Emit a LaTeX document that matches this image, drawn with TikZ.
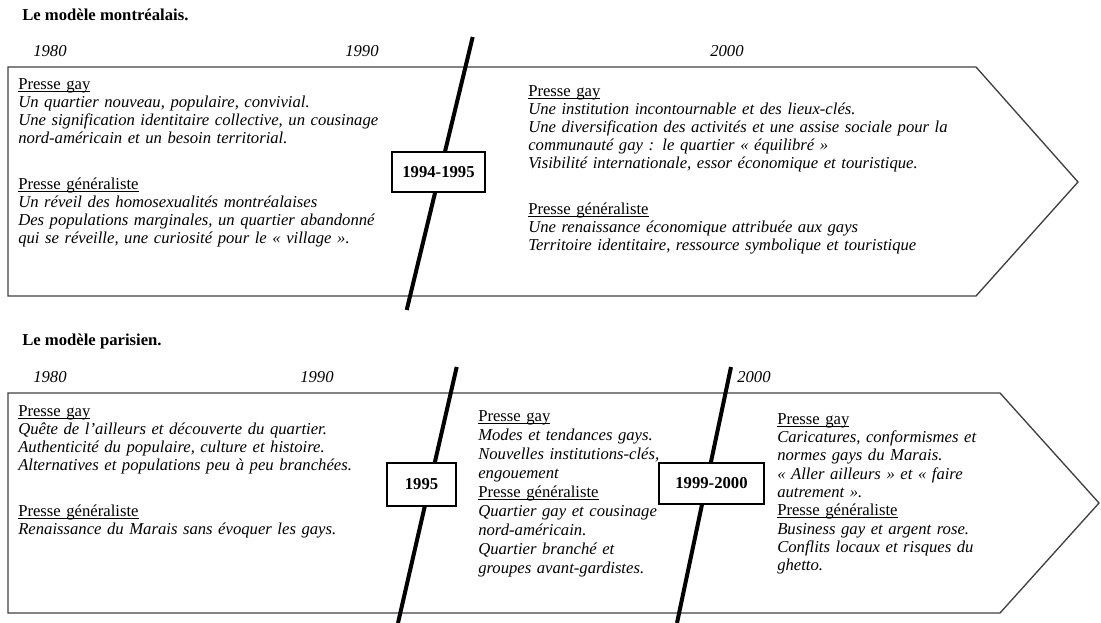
\documentclass[tikz,border=0pt]{standalone}
\usepackage{fontspec}
\setmainfont{Liberation Serif}
\newcommand\hdr[1]{\leavevmode\strut\setbox0\hbox{#1}\rlap{\rule[-1.8pt]{\wd0}{0.55pt}}\box0}
\begin{document}
\begin{tikzpicture}[x=0.75pt,y=-0.75pt,
  titlelbl/.style={anchor=base west, inner sep=0pt, font=\fontsize{12.5}{13.5}\selectfont\bfseries},
  yearlbl/.style={anchor=base west, inner sep=0pt, font=\fontsize{12.5}{13.5}\selectfont\itshape},
  txt/.style={anchor=north west, inner sep=0pt, text width=#1, align=left},
  txt/.default=320pt,
  datebox/.style={draw, fill=white, line width=0.8pt, inner sep=0pt, font=\fontsize{12.5}{14}\selectfont\bfseries},
  period/.style={draw=black!75, line width=1pt, line join=miter},
  cutline/.style={line width=3pt}]
\useasboundingbox (0,0) rectangle (1101,623);

% ---------- Montreal ----------
\node[titlelbl] (t1) at (22,21) {Le modèle montréalais.};
\node[yearlbl] (y1a) at (33,57) {1980};
\node[yearlbl] (y1b) at (345,57) {1990};
\node[yearlbl] (y1c) at (710,57) {2000};

\draw[period] (8,67) -- (976,67) -- (1078,182) -- (976,296) -- (8,296) -- cycle;

\node[txt, font=\fontsize{12.5}{13.5}\selectfont] (m1) at (18,76.4) {\hdr{Presse gay}\\
\textit{Un quartier nouveau, populaire, convivial.}\\
\textit{Une signification identitaire collective, un cousinage}\\
\textit{nord-américain et un besoin territorial.}\\[21pt]
\hdr{Presse généraliste}\\
\textit{Un réveil des homosexualités montréalaises}\\
\textit{Des populations marginales, un quartier abandonné}\\
\textit{qui se réveille, une curiosité pour le « village ».}};

\node[txt=340pt, font=\fontsize{12.5}{13.5}\selectfont] (m2) at (528,83.4) {\hdr{Presse gay}\\
\textit{Une institution incontournable et des lieux-clés.}\\
\textit{Une diversification des activités et une assise sociale pour la}\\
\textit{communauté gay : le quartier « équilibré »}\\
\textit{Visibilité internationale, essor économique et touristique.}\\[21pt]
\hdr{Presse généraliste}\\
\textit{Une renaissance économique attribuée aux gays}\\
\textit{Territoire identitaire, ressource symbolique et touristique}};

\coordinate (c1t) at (472.7,37);
\coordinate (c1b) at (406.7,310);
\draw[cutline] (c1t) -- (c1b);
\node[datebox, minimum width=69.75pt, minimum height=30pt] (d1) at (438.5,172) {1994-1995};

% ---------- Paris ----------
\node[titlelbl] (t2) at (22,346) {Le modèle parisien.};
\node[yearlbl] (y2a) at (33,383) {1980};
\node[yearlbl] (y2b) at (300,383) {1990};
\node[yearlbl] (y2c) at (737,383) {2000};

\draw[period] (8,393) -- (1000,393) -- (1099,503) -- (1000,613) -- (8,613) -- cycle;

\node[txt, font=\fontsize{12.5}{13.5}\selectfont] (p1) at (18,403.4) {\hdr{Presse gay}\\
\textit{Quête de l'ailleurs et découverte du quartier.}\\
\textit{Authenticité du populaire, culture et histoire.}\\
\textit{Alternatives et populations peu à peu branchées.}\\[21pt]
\hdr{Presse généraliste}\\
\textit{Renaissance du Marais sans évoquer les gays.}};

\node[txt=170pt, font=\fontsize{12.5}{14.25}\selectfont] (p2) at (478,407.7) {\hdr{Presse gay}\\
\textit{Modes et tendances gays.}\\
\textit{Nouvelles institutions-clés,}\\
\textit{engouement}\\
\hdr{Presse généraliste}\\
\textit{Quartier gay et cousinage}\\
\textit{nord-américain.}\\
\textit{Quartier branché et}\\
\textit{groupes avant-gardistes.}};

\node[txt=170pt, font=\fontsize{12.5}{13.725}\selectfont] (p3) at (777,411.2) {\hdr{Presse gay}\\
\textit{Caricatures, conformismes et}\\
\textit{normes gays du Marais.}\\
\textit{« Aller ailleurs » et « faire}\\
\textit{autrement ».}\\
\hdr{Presse généraliste}\\
\textit{Business gay et argent rose.}\\
\textit{Conflits locaux et risques du}\\
\textit{ghetto.}};

\coordinate (c2t) at (456.7,367);
\coordinate (c2b) at (398,623);
\coordinate (c3t) at (731,367);
\coordinate (c3b) at (677,623);
\draw[cutline] (c2t) -- (c2b);
\draw[cutline] (c3t) -- (c3b);
\node[datebox, minimum width=51.75pt, minimum height=32.25pt] (d2) at (421.5,484.5) {1995};
\node[datebox, minimum width=78.75pt, minimum height=30.75pt] (d3) at (711.5,483.5) {1999-2000};
\end{tikzpicture}
\end{document}
